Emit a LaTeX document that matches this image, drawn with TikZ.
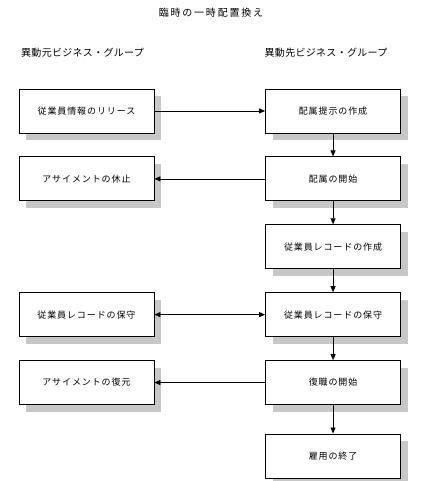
\documentclass[tikz,border=0pt]{standalone}
\usepackage{fontspec}
\setmainfont{Noto Sans CJK JP}
\usepackage{tikz}
\usetikzlibrary{positioning,
                shadows,
                arrows.meta}
\definecolor[named]{shadowgrey}{rgb}{0.78,0.78,0.78}

\begin{document}
\begin{tikzpicture}
       [x=1pt,y=-1pt,>={Triangle[length=6pt,width=5pt]},
        task/.style={fill=white,shape=rectangle,draw=black,line width=0.9pt,
                     minimum width=135pt,
                     minimum height=44pt,inner sep=2pt,
                     font=\fontsize{9}{11}\selectfont\addfontfeatures{LetterSpace=10},
                     drop shadow={shadow xshift=7pt,shadow yshift=-7pt,
                                  fill=shadowgrey,opacity=1}},
        heading/.style={anchor=west,inner sep=0pt,
                        font=\fontsize{10}{12}\selectfont\addfontfeatures{LetterSpace=3}},
        flow/.style={line width=0.7pt,->}]
       \useasboundingbox (0,0) rectangle (423,481);
       \node [inner sep=0pt,font=\fontsize{10}{12}\selectfont\addfontfeatures{LetterSpace=18}]
             (title) at (211,13) {臨時の一時配置換え};
       \node [heading] (fromgroup) at (21,53) {異動元ビジネス・グループ};
       \node [heading] (togroup) at (264.5,53) {異動先ビジネス・グループ};
       \matrix (chart) [anchor=north west,inner sep=0pt,
                        row sep=23pt,column sep=110.7pt] at (18.3,88.3) {
        \node [task] (release) {従業員情報のリリース}; &
        \node [task] (offer) {配属提示の作成}; \\
        \node [task] (suspend) {アサイメントの休止}; &
        \node [task] (start) {配属の開始}; \\
        & \node [task] (create) {従業員レコードの作成}; \\
        \node [task] (keepsrc) {従業員レコードの保守}; &
        \node [task] (keepdst) {従業員レコードの保守}; \\
        \node [task] (restore) {アサイメントの復元}; &
        \node [task] (return) {復職の開始}; \\[5.5pt]
        & \node [task] (finish) {雇用の終了}; \\
        };
       % connectors between the two groups
       \draw [flow] (release) -- (offer);
       \draw [flow] (start) -- (suspend);
       \draw [flow,<->] (keepsrc) -- (keepdst);
       \draw [flow] (return) -- (restore);
       % steps in the target group
       \foreach \a/\b in {offer/start,start/create,create/keepdst,
                          keepdst/return,return/finish}
         \draw [flow] (\a) -- (\b);
    \end{tikzpicture}
\end{document}
